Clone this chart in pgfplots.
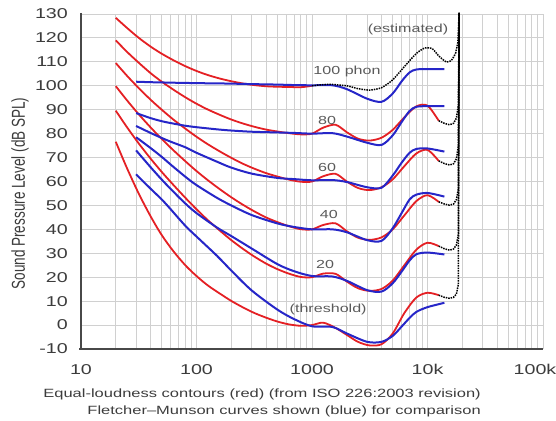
\documentclass[border=0pt]{standalone}
\usepackage{graphicx}
\usepackage{pgfplots}
\pgfplotsset{compat=1.18}
\usepackage{fontspec}
\setmainfont{Liberation Sans}
\newfontfamily\wide[FakeStretch=1.38]{Liberation Sans}
\definecolor{isored}{RGB}{228,32,36}
\definecolor{fmblue}{RGB}{38,38,200}
\definecolor{gridc}{RGB}{208,208,208}
\definecolor{txt}{RGB}{60,60,60}
\definecolor{lbl}{RGB}{90,90,90}
\definecolor{axcol}{RGB}{72,72,72}
\begin{document}
\begin{tikzpicture}
\path[use as bounding box] (0bp,0bp) rectangle (556bp,421bp);
\begin{axis}[
  at={(81bp,72bp)}, anchor=south west,
  scale only axis, width=462bp, height=335bp,
  xmode=log,
  xmin=10, xmax=100000, ymin=-10, ymax=130,
  xtick={10,100,1000,10000,100000},
  xticklabels={10,100,1000,10k,{\hspace*{-16bp}100k}},
  ytick={-10,0,10,20,30,40,50,60,70,80,90,100,110,120,130},
  yticklabels={-10,0,10,20,30,40,50,60,70,80,90,100,110,120,130},
  axis line style={draw=none},
  major tick length=0pt, minor tick length=0pt,
  xmajorgrids=true, xminorgrids=true, ymajorgrids=true,
  grid style={gridc, line width=0.9bp},
  major grid style={gridc, line width=0.9bp},
  minor grid style={gridc, line width=0.9bp},
  tick label style={font=\wide\fontsize{14.3}{16}\selectfont, text=txt, inner sep=0pt},
  yticklabel style={anchor=east, xshift=-13bp},
  xticklabel style={anchor=north, yshift=-15bp},
  clip=false,
]
% ISO 226:2003 (red)
\addplot[isored, line width=1.8bp, smooth, tension=0.5] coordinates {
(20,76.6) (25,65.6) (31.5,55.1) (40,45.5) (50,37.6) (63,30.9) (80,25.0) (100,20.5) (125,16.6) (160,13.1) (200,10.1) (250,7.5) (315,5.1) (400,3.1) (500,1.5) (630,0.3) (800,-0.3) (1000,0.0) (1250,1.0) (1600,-1.2) (2000,-4.1) (2500,-7.0) (3150,-8.5) (4000,-8.0) (5000,-3.5) (6300,5.0) (8000,11.5) (10000,13.5) (12500,12.5)};
\addplot[isored, line width=1.8bp, smooth, tension=0.5] coordinates {
(20,89.6) (25,82.7) (31.5,76.0) (40,69.6) (50,64.0) (63,58.6) (80,53.2) (100,48.4) (125,43.9) (160,39.4) (200,35.5) (250,32.0) (315,28.7) (400,25.7) (500,23.4) (630,21.5) (800,20.1) (1000,20.0) (1250,21.5) (1600,21.4) (2000,18.2) (2500,15.4) (3150,14.3) (4000,15.1) (5000,18.6) (6300,25.0) (8000,31.5) (10000,34.4) (12500,33.0)};
\addplot[isored, line width=1.8bp, smooth, tension=0.5] coordinates {
(20,99.85) (25,93.94) (31.5,88.17) (40,82.63) (50,77.78) (63,73.08) (80,68.48) (100,64.37) (125,60.59) (160,56.70) (200,53.41) (250,50.40) (315,47.58) (400,44.98) (500,43.05) (630,41.34) (800,40.06) (1000,40.01) (1250,41.82) (1600,42.51) (2000,39.23) (2500,36.51) (3150,35.61) (4000,36.65) (5000,40.01) (6300,45.83) (8000,51.80) (10000,54.28) (12500,51.49)};
\addplot[isored, line width=1.8bp, smooth, tension=0.5] coordinates {
(20,109.5) (25,104.2) (31.5,99.1) (40,94.2) (50,90.0) (63,85.9) (80,82.1) (100,78.7) (125,75.6) (160,72.5) (200,69.9) (250,67.5) (315,65.4) (400,63.5) (500,62.1) (630,60.8) (800,59.9) (1000,60.0) (1250,62.2) (1600,63.2) (2000,60.0) (2500,57.3) (3150,56.4) (4000,57.6) (5000,60.9) (6300,66.4) (8000,71.7) (10000,73.2) (12500,68.6)};
\addplot[isored, line width=1.8bp, smooth, tension=0.5] coordinates {
(20,119.0) (25,114.2) (31.5,109.7) (40,105.3) (50,101.7) (63,98.4) (80,95.2) (100,92.5) (125,90.1) (160,87.8) (200,85.9) (250,84.3) (315,82.9) (400,81.7) (500,80.9) (630,80.2) (800,79.7) (1000,80.0) (1250,82.5) (1600,83.7) (2000,80.6) (2500,77.9) (3150,77.1) (4000,78.3) (5000,81.6) (6300,86.8) (8000,91.4) (10000,91.7) (12500,85.4)};
\addplot[isored, line width=1.8bp, smooth, tension=0.5] coordinates {
(20,128.4) (25,124.2) (31.5,120.1) (40,116.4) (50,113.4) (63,110.7) (80,108.2) (100,106.2) (125,104.5) (160,103.0) (200,101.9) (250,101.0) (315,100.3) (400,99.8) (500,99.6) (630,99.5) (800,99.4) (1000,100.0)};
% Fletcher-Munson (blue)
\addplot[fmblue, line width=2bp, smooth, tension=0.5] coordinates {
(30,63) (40,57) (50,52.5) (60,48.3) (80,41.5) (100,37) (150,29) (200,22.8) (300,14.5) (500,6.5) (700,2.5) (1000,-0.5) (1500,-0.8) (2000,-3.5) (3000,-7) (4000,-7) (5000,-4.5) (6000,-0.5) (7000,3) (8000,5.5) (10000,7.5) (14000,9.3)};
\addplot[fmblue, line width=2bp, smooth, tension=0.5] coordinates {
(30,73) (40,66) (50,60.8) (60,56.8) (80,50.8) (100,46.8) (150,40.8) (200,37.2) (300,32) (500,25.5) (700,22.5) (1000,20.5) (1500,20.3) (2000,18.5) (3000,14.6) (4000,14.0) (5000,17.5) (6000,22.5) (7000,27) (8000,29.6) (10000,30.3) (14000,29.5)};
\addplot[fmblue, line width=2bp, smooth, tension=0.5] coordinates {
(30,78.5) (40,74) (50,70.3) (60,67) (80,62) (100,58.5) (150,53.2) (200,50) (300,46) (500,42.5) (700,41) (1000,40) (1500,40) (2000,38.8) (3000,35.5) (4000,35.2) (5000,40.5) (6000,47) (7000,52.5) (8000,54.5) (10000,55.2) (14000,53.7)};
\addplot[fmblue, line width=2bp, smooth, tension=0.5] coordinates {
(30,83.2) (40,80.3) (50,78.2) (60,76.6) (80,74.3) (100,72) (150,68.3) (200,65.8) (300,63.3) (500,61.5) (700,61) (1000,60.5) (1500,60.6) (2000,59.8) (3000,57.6) (4000,57.4) (5000,62.5) (6000,68) (7000,72) (8000,73.6) (10000,73.8) (14000,72.5)};
\addplot[fmblue, line width=2bp, smooth, tension=0.5] coordinates {
(30,88.6) (40,86.5) (50,85.2) (60,84.4) (80,83.3) (100,82.7) (150,81.8) (200,81.3) (300,80.8) (500,80.5) (700,80.3) (1000,80.0) (1500,80.2) (2000,78.8) (3000,76.2) (4000,75.3) (5000,79.3) (6000,85) (7000,89.5) (8000,91.2) (10000,91.5) (14000,91.5)};
\addplot[fmblue, line width=2bp, smooth, tension=0.5] coordinates {
(30,101.7) (40,101.5) (50,101.4) (60,101.3) (80,101.2) (100,101.1) (150,101) (200,100.9) (300,100.7) (500,100.5) (700,100.3) (1000,100.2) (1500,100.2) (2000,98.6) (3000,94.6) (4000,93.3) (5000,96.8) (6000,102) (7000,105.6) (8000,106.8) (10000,107) (14000,107)};
% estimated (dotted)
\addplot[black, line width=1.5bp, densely dotted, smooth, tension=0.4] coordinates {
(1000,100) (1400,100.6) (2000,100) (2500,98.8) (3150,98.2) (4000,99.2) (5000,102.5) (6300,108) (8000,113.5) (9500,115.8) (11000,115.5) (12500,112.5) (14500,110) (16000,110.5) (17500,113.5)};
\addplot[black, line width=1.5bp, densely dotted] coordinates {
(17500,113.5) (18300,118) (18800,130.5)};
\addplot[black, line width=1.5bp, densely dotted] coordinates {
(12500,85.4) (14000,84.3) (15500,83.7) (16800,84.3) (17800,86.5) (18500,92) (18800,130.5)};
\addplot[black, line width=1.5bp, densely dotted] coordinates {
(12500,68.6) (14000,67.5) (15500,66.9) (16800,67.4) (17800,69.5) (18500,75) (18800,130.5)};
\addplot[black, line width=1.5bp, densely dotted] coordinates {
(12500,51.5) (14000,50.6) (15500,50.1) (16800,50.6) (17800,52.5) (18500,57) (18800,130.5)};
\addplot[black, line width=1.5bp, densely dotted] coordinates {
(12500,33.0) (14000,31.9) (15500,31.3) (16800,31.8) (17800,33.5) (18500,38) (18800,130.5)};
\addplot[black, line width=1.5bp, densely dotted] coordinates {
(12500,12.5) (14000,11.6) (15500,11.2) (16800,11.6) (17800,13) (18500,17) (18800,130.5)};
% axis lines
\draw[axcol, line width=2.8bp] (axis cs:10,130.5) -- (axis cs:10,-10.4);
\draw[axcol, line width=2bp] (axis cs:9.7,-10) -- (axis cs:100000,-10);
% labels
\begin{scope}[every node/.style={font=\wide\fontsize{11.7}{13}\selectfont, text=lbl, inner sep=0pt}]
\node at (axis cs:2010,105.8) {100 phon};
\node at (axis cs:1350,85.4) {80};
\node at (axis cs:1350,65.7) {60};
\node at (axis cs:1400,46.1) {40};
\node at (axis cs:1300,25.2) {20};
\node at (axis cs:1380,6.4) {(threshold)};
\node at (axis cs:6780,123.6) {(estimated)};
\end{scope}
\end{axis}
\node[rotate=90, inner sep=0pt, text=txt, font=\fontsize{13.6}{15}\selectfont] at (20bp,227.5bp) {\scalebox{1}[1.38]{Sound Pressure Level (dB SPL)}};
\node[anchor=base east, inner sep=0pt, text=txt, font=\wide\fontsize{12}{14}\selectfont] at (481bp,23.7bp) {Equal-loudness contours (red) (from ISO 226:2003 revision)};
\node[anchor=base east, inner sep=0pt, text=txt, font=\wide\fontsize{12}{14}\selectfont] at (481bp,6.7bp) {Fletcher–Munson curves shown (blue) for comparison};
\end{tikzpicture}
\end{document}
